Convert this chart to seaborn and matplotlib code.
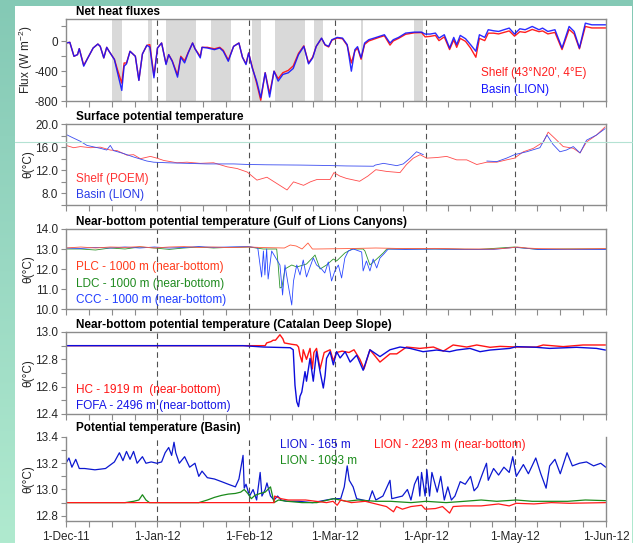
import numpy as np
import pandas as pd
import matplotlib
matplotlib.use("Agg")
import matplotlib.pyplot as plt
import matplotlib.dates as mdates
import seaborn as sns
from matplotlib.colors import LinearSegmentedColormap
from matplotlib.patches import Rectangle
from matplotlib.lines import Line2D

###################################################################################################
# Data (days counted from 1-Dec-2011)
###################################################################################################

# panel 1 : net heat fluxes (W m-2)
FLUX_DAYS = [0, 1.3, 2.7, 3.9, 4.5, 6.0, 7.4, 9.2, 10.8, 11.6,
             12.8, 13.8, 14.6, 16.4, 17.6, 18.9, 19.7, 20.5, 21.7, 23.5,
             24.7, 25.9, 27.4, 28.4, 29.8, 31.0, 32.4, 33.9, 34.8, 36.0,
             37.8, 38.9, 40.2, 41.4, 42.9, 43.7, 45.5, 46.1, 47.9, 50.3,
             52.1, 53.3, 55.0, 56.8, 58.6, 59.8, 61.0, 61.9, 63.1, 64.6,
             66.0, 67.5, 69.0, 70.5, 71.9, 73.5, 75.3, 77.0, 78.8, 80.6,
             82.2, 83.6, 84.8, 86.6, 87.8, 89.0, 90.1, 91.9, 93.7, 95.3,
             96.7, 97.9, 98.8, 100.0, 101.2, 102.6, 104.4, 106.2, 107.9, 109.8,
             110.9, 112.7, 115.1, 118.1, 120.5, 121.7, 123.4, 125.2, 126.4, 128.2,
             130.0, 131.4, 132.4, 133.6, 135.4, 137.1, 138.9, 140.1, 141.9, 143.1,
             144.9, 146.6, 148.4, 150.2, 152.0, 153.8, 155.6, 158.0, 160.3, 161.5,
             163.3, 165.7, 168.1, 170.5, 172.2, 174.0, 176.0, 178.2, 181.2, 182.9]
FLUX_BASIN = [-22, -13, -200, -178, -98, -333, -222, -89, -36, -67,
              -222, -80, -133, -244, -444, -658, -333, -302, -133, -200,
              -524, -169, -53, -76, -489, -89, -22, -311, -178, -267,
              -480, -213, -289, -156, -22, -98, -222, -80, -89, -111,
              -89, -133, -267, -67, -22, -213, -311, -156, -356, -533,
              -756, -422, -747, -400, -533, -444, -422, -364, -178, -67,
              -302, -222, -67, 44, -44, -67, 22, 53, 44, -44,
              -400, -111, -71, -222, -22, 22, 44, 67, 89, -22,
              22, 53, 111, 124, 124, 98, 98, 111, 44, 89,
              -89, 53, -44, 80, 36, -44, -133, 89, 53, 156,
              142, 133, 156, 178, 98, 169, 156, 200, 156, 178,
              133, 156, -89, 200, 133, -89, 244, 222, 222, 222]
FLUX_SHELF = [-22, -13, -200, -178, -98, -320, -222, -89, -36, -67,
              -222, -80, -133, -240, -400, -560, -290, -290, -133, -200,
              -520, -169, -53, -44, -460, -89, -22, -300, -178, -260,
              -450, -200, -260, -150, -22, -98, -200, -80, -80, -100,
              -80, -120, -250, -67, -22, -213, -300, -156, -340, -560,
              -791, -420, -700, -400, -500, -420, -390, -330, -160, -60,
              -290, -210, -67, 40, -50, -75, 15, 45, 35, -55,
              -290, -130, -90, -240, -40, 5, 30, 55, 75, -50,
              5, 40, 95, 115, 118, 60, 67, 80, 10, 60,
              -110, 20, -80, 40, 0, -90, -213, 40, 10, 110,
              110, 100, 120, 140, 70, 130, 120, 160, 130, 140,
              100, 120, -110, 160, 100, -100, 200, 180, 180, 180]
SHADE_START = [15.5, 27.8, 33.9, 49.1, 63.0, 70.9, 84.0, 100.0, 118.1]
SHADE_END = [19.0, 29.1, 44.0, 56.0, 66.1, 81.0, 87.0, 100.5, 121.1]

# panel 2 : surface potential temperature (degC)
SST_SHELF_DAYS = [0, 2.6, 4.9, 8.3, 11.6, 15, 17.3, 20.7, 22.9, 25.2,
                  28.6, 30.8, 33.1, 37.6, 41, 45.5, 50, 54.6, 58, 61.4,
                  64.7, 68.1, 71.5, 74.9, 77.1, 80.5, 82.8, 85, 89.5, 90.8,
                  92.8, 95, 99.5, 102.3, 105, 108.7, 113.2, 115.4, 117.7, 120,
                  122.2, 125.6, 129, 132.4, 135.8, 139.2, 142.6, 146, 149.3, 152,
                  155, 158.4, 161.8, 163.4, 165.7, 168.5, 171.9, 174.2, 176.4, 179.8,
                  182.7]
SST_SHELF = [16.3, 15.9, 16.1, 15.9, 16.0, 15.5, 15.4, 14.6, 14.7, 14.0,
             14.4, 14.1, 13.7, 13.3, 13.4, 13.2, 13.3, 12.6, 12.3, 11.7,
             10.3, 10.8, 9.7, 8.6, 10.0, 9.4, 10.0, 10.4, 10.4, 11.6,
             11.0, 10.6, 10.1, 11.0, 12.1, 11.8, 11.6, 13.0, 14.1, 14.7,
             14.1, 14.2, 14.4, 13.8, 13.8, 13.0, 13.4, 13.4, 13.8, 14.1,
             15.2, 15.8, 16.9, 18.6, 17.5, 16.1, 15.8, 15.0, 16.9, 18.1,
             19.5]
SST_BASIN_A_DAYS = [0, 2, 4.9, 7.1, 11.6, 13.8, 15, 16.1, 19.5, 22.9,
                    27.4, 29.7, 34.2, 41, 47.7, 56.8, 61.9, 68.1, 79.4, 86.2,
                    95, 104.2, 104.8, 107.6, 112.1, 114.3, 116.6, 118.8, 121.1]
SST_BASIN_A = [18.2, 17.7, 17.0, 16.3, 15.8, 15.5, 16.3, 15.4, 14.9, 14.3,
               13.6, 13.4, 13.3, 13.2, 13.1, 13.1, 13.0, 12.95, 12.9, 12.85,
               12.75, 12.7, 12.9, 13.2, 12.8, 13.1, 14.1, 15.2, 14.7]
SST_BASIN_B_DAYS = [142.6, 146, 149.3, 152, 156.1, 160.6, 163, 165, 167.4, 169.6,
                    171.9, 174.2, 176.4, 179.8, 182.7]
SST_BASIN_B = [13.6, 13.5, 14.1, 14.7, 15.2, 15.9, 18.1, 16.5, 15.2, 15.5,
               16.1, 15.0, 17.2, 18.1, 19.2]

# panel 3 : Gulf of Lions canyons
PLC_DAYS = [0, 5, 10, 15, 20, 25, 30, 35, 40, 45,
            50, 55, 62, 67, 74, 76, 78, 80, 82, 83.5,
            85, 95, 105, 115, 125, 135, 145, 150, 153, 156,
            160, 170, 183]
PLC = [13.05, 13.1, 13.05, 13.1, 13.08, 13.12, 13.05, 13.1, 13.12, 13.08,
       13.1, 13.07, 13.1, 13.07, 13.05, 13.2, 13.15, 13.0, 13.3, 13.0,
       13.0, 13.02, 13.05, 13.02, 13.03, 13.0, 13.0, 13.05, 13.1, 13.05,
       13.02, 13.0, 13.02]
LDC_DAYS = [0, 5, 10, 15, 20, 25, 30, 35, 40, 45,
            50, 55, 62, 66.9, 71.4, 71.9, 72.5, 73.2, 74.2, 76.5,
            78.2, 81.5, 83.8, 84.4, 86.1, 88.3, 90.6, 91.7, 94.5, 95.7,
            97, 100.7, 101.3, 103, 105.3, 107.5, 108.7, 115, 125, 140,
            152, 155, 160, 170, 183]
LDC = [13.0, 13.0, 12.95, 13.05, 13.0, 13.1, 13.05, 12.98, 13.05, 13.1,
       13.05, 13.08, 13.1, 13.0, 13.0, 12.2, 11.05, 11.1, 12.0, 12.2,
       12.1, 12.25, 12.6, 12.7, 12.0, 12.2, 12.5, 12.4, 12.8, 12.9,
       13.0, 13.0, 12.9, 12.2, 12.5, 12.8, 13.0, 13.0, 13.0, 12.98,
       13.1, 13.05, 12.98, 13.0, 13.0]
CCC_DAYS = [0, 5, 10, 15, 20, 25, 30, 35, 40, 45,
            50, 55, 62, 65, 66.3, 66.9, 67.4, 68, 68.5, 69.7,
            72.5, 73.4, 74.2, 75.3, 76.5, 77.1, 78.2, 79.3, 80.4, 81.5,
            82.7, 83.8, 84.9, 86.6, 87.7, 88.9, 90, 91.1, 92.3, 93.4,
            94.5, 95.7, 97.4, 100.2, 100.7, 101.8, 103, 104.1, 105.3, 106.4,
            107.7, 109.2, 115, 125, 135, 145, 152, 155, 160, 170,
            183]
CCC = [13.05, 13.03, 13.08, 13.05, 13.1, 13.05, 13.1, 13.05, 13.08, 13.12,
       13.08, 13.1, 13.12, 13.05, 11.6, 12.9, 11.7, 13.0, 11.5, 12.9,
       12.2, 10.7, 12.2, 11.2, 10.2, 11.4, 12.2, 11.7, 12.45, 11.6,
       12.1, 12.55, 12.2, 12.0, 11.8, 12.35, 11.4, 11.9, 12.2, 11.55,
       12.55, 12.9, 13.0, 12.85, 11.9, 12.4, 11.9, 12.5, 12.05, 12.55,
       12.75, 13.0, 12.98, 13.0, 12.98, 12.98, 13.08, 13.05, 12.98, 12.98,
       12.98]

# panel 4 : Catalan deep slope
HC_DAYS = [0, 30, 60, 67.5, 68, 69.5, 70.2, 71, 72.5, 73.5,
           74, 76.5, 78.2, 78.8, 79.3, 80, 80.4, 81.5, 82.7, 83.5,
           84, 84.9, 86.1, 87.5, 89.5, 90.6, 91.7, 93.6, 95.9, 97.6,
           99.6, 101, 103, 106.4, 109.8, 112.1, 115.4, 119.9, 124.5, 127.9,
           131.2, 135.8, 139.2, 143.7, 147.1, 152.7, 159.4, 161.7, 168.5, 175.2,
           182.8]
HC = [12.9, 12.9, 12.9, 12.9, 12.92, 12.93, 12.94, 12.94, 12.98, 12.95,
      12.92, 12.91, 12.905, 12.89, 12.83, 12.78, 12.87, 12.8, 12.88, 12.73,
      12.85, 12.88, 12.73, 12.85, 12.87, 12.79, 12.85, 12.86, 12.85, 12.87,
      12.8, 12.73, 12.87, 12.78, 12.84, 12.84, 12.89, 12.88, 12.89, 12.86,
      12.905, 12.89, 12.905, 12.888, 12.895, 12.89, 12.89, 12.905, 12.893, 12.905,
      12.905]
FOFA_DAYS = [0, 60, 67, 76, 77, 77.6, 78.2, 78.8, 79.3, 79.9,
             81, 81.5, 82.7, 83.8, 84.9, 86.1, 87.2, 87.8, 88.3, 89.5,
             90.6, 91.7, 92.9, 94.6, 96.3, 98.5, 100.7, 103, 106.4, 109.8,
             113.2, 116.6, 121, 125.6, 130, 132.4, 136.9, 140.3, 143.7, 150.4,
             152.7, 159.4, 163.9, 173, 179.8, 182.8]
FOFA = [12.9, 12.9, 12.89, 12.885, 12.87, 12.61, 12.49, 12.454, 12.53, 12.56,
        12.71, 12.64, 12.807, 12.64, 12.856, 12.71, 12.59, 12.68, 12.807, 12.856,
        12.76, 12.856, 12.81, 12.856, 12.78, 12.83, 12.72, 12.87, 12.82, 12.87,
        12.89, 12.88, 12.856, 12.868, 12.856, 12.868, 12.88, 12.856, 12.868, 12.88,
        12.893, 12.888, 12.88, 12.888, 12.88, 12.868]

# panel 5 : basin (LION mooring)
L165_DAYS = [0, 1, 2, 3.3, 4.5, 6.3, 9.8, 13.4, 14.6, 16.4,
             18.1, 19.3, 20.5, 21.7, 22.9, 24.1, 25.9, 27.1, 28.9, 30.8,
             32.4, 33.6, 34.8, 35.8, 36.6, 37.2, 38.4, 40.2, 41.9, 43.7,
             45, 46.1, 47.9, 50.3, 52.7, 55, 57.4, 58.6, 60, 60.4,
             61, 62.2, 63.4, 64.6, 65.8, 66.4, 67.5, 68.1, 69.3, 70.5,
             71.7, 72.9, 74.7, 78.8, 83.6, 88.3, 90.7, 93.1, 94.3, 95.3,
             96, 97.3, 98.5, 102.6, 103.8, 105, 107.4, 109.8, 110.4, 114,
             115.7, 116.9, 118.1, 119.3, 119.9, 120.5, 121.7, 122.3, 123.2, 124,
             125.8, 127, 128.2, 129.4, 130.6, 131.8, 133.6, 135.3, 137.1, 138.3,
             139.5, 141.3, 142.5, 143.1, 144.9, 146.6, 148.4, 150.2, 151.4, 152.6,
             155, 156.7, 159.2, 160.9, 162.7, 163.9, 165.7, 167.5, 169.8, 171.6,
             174, 176.4, 178.8, 181.2, 182.9]
L165 = [13.2, 13.24, 13.17, 13.23, 13.16, 13.16, 13.15, 13.16, 13.18, 13.21,
        13.28, 13.22, 13.29, 13.23, 13.29, 13.2, 13.25, 13.2, 13.21, 13.2,
        13.21, 13.28, 13.32, 13.26, 13.36, 13.28, 13.2, 13.25, 13.17, 13.2,
        13.1, 13.14, 13.09, 13.08, 13.06, 13.04, 13.02, 13.08, 13.26, 13.01,
        13.04, 12.95, 13.0, 12.92, 13.13, 12.95, 13.0, 13.05, 12.95, 12.92,
        12.95, 12.92, 12.91, 12.91, 12.9, 12.92, 12.93, 12.93, 13.02, 13.18,
        13.07, 13.02, 12.93, 12.91, 12.99, 12.92, 12.95, 13.07, 12.93, 12.95,
        13.0, 12.92, 13.04, 13.1, 12.95, 13.13, 12.95, 13.15, 12.95, 13.13,
        12.98, 13.1, 12.92, 13.02, 12.92, 12.95, 13.06, 13.04, 13.1, 12.99,
        13.02, 13.13, 13.2, 13.07, 13.16, 13.11, 13.17, 13.13, 13.25, 13.1,
        13.19, 13.12, 13.24, 13.12, 13.01, 13.18, 13.23, 13.12, 13.28, 13.18,
        13.2, 13.21, 13.18, 13.2, 13.17]
L1093_DAYS = [0, 10, 20, 22.9, 24.7, 25.9, 27.1, 28.3, 35, 40,
              45, 47.9, 50.3, 52.7, 55, 57.4, 59.2, 60.4, 61.6, 62.8,
              64, 65.8, 67.5, 69.3, 70.5, 72, 75, 80, 85, 90.7,
              95, 99, 105, 110, 116.9, 122, 128.8, 135, 140.7, 146,
              152.6, 158, 164.5, 170, 176, 182.9]
L1093 = [12.9, 12.9, 12.9, 12.91, 12.92, 12.96, 12.92, 12.9, 12.9, 12.9,
         12.9, 12.92, 12.94, 12.955, 12.965, 12.97, 12.98, 13.0, 12.97, 12.93,
         12.955, 12.97, 12.98, 13.02, 12.9, 12.92, 12.91, 12.9, 12.9, 12.93,
         12.91, 12.92, 12.91, 12.91, 12.9, 12.91, 12.9, 12.91, 12.92, 12.91,
         12.92, 12.91, 12.91, 12.91, 12.92, 12.915]
L2293_DAYS = [0, 70.5, 70.7, 72.9, 75.3, 81.2, 88.3, 90.5, 91.9, 93.1,
              96.7, 101.4, 105, 108.6, 111, 112, 114, 116.9, 120.5, 121.7,
              125.2, 127.6, 130, 131.2, 134.8, 140.7, 146.6, 150.2, 152.6, 158.6,
              164.5, 170.5, 182.9]
L2293 = [12.9, 12.9, 12.95, 12.93, 12.92, 12.92, 12.9, 12.91, 12.88, 12.92,
         12.9, 12.91, 12.89, 12.87, 12.83, 12.87, 12.85, 12.87, 12.88, 12.85,
         12.855, 12.87, 12.82, 12.87, 12.875, 12.875, 12.89, 12.875, 12.895, 12.89,
         12.9, 12.895, 12.9]

MONTHS = ["2011-12-01", "2012-01-01", "2012-02-01", "2012-03-01",
          "2012-04-01", "2012-05-01", "2012-06-01"]
MONTH_LABELS = ["1-Dec-11", "1-Jan-12", "1-Feb-12", "1-Mar-12",
                "1-Apr-12", "1-May-12", "1-Jun-12"]

START = pd.Timestamp("2011-12-01")
FONT = 8.5

###################################################################################################
# helpers
###################################################################################################
def to_dates(days):
    return START + pd.to_timedelta(np.asarray(days, dtype=float), unit="D")


def draw(ax, days, values, color, lw, alpha=1.0):
    df = pd.DataFrame({"date": to_dates(days), "value": values})
    sns.lineplot(data=df, x="date", y="value", ax=ax, color=color,
                 linewidth=lw, alpha=alpha, estimator=None, sort=False)


def style(ax, ylim, major, labels, minor, show_x=False, top=True):
    month_dates = pd.to_datetime(MONTHS)
    quarter = []
    for a, b in zip(month_dates[:-1], month_dates[1:]):
        for k in (1, 2, 3):
            quarter.append(a + (b - a) * k / 4)
    ax.set_xlim(mdates.date2num(month_dates[0]), mdates.date2num(month_dates[-1]))
    ax.set_ylim(*ylim)
    ax.set_xticks(mdates.date2num(month_dates))
    ax.set_xticks(mdates.date2num(pd.to_datetime(quarter)), minor=True)
    ax.set_xticklabels(MONTH_LABELS if show_x else [])
    ax.set_yticks(major)
    ax.set_yticklabels(labels)
    ax.set_yticks(minor, minor=True)
    ax.set_xlabel("")
    ax.set_ylabel("")
    for d in month_dates[1:-1]:
        ax.axvline(mdates.date2num(d), color="#505050", lw=0.8,
                   ls=(0, (5, 3.5)), zorder=1.5)
    for name, sp in ax.spines.items():
        sp.set_color("#8c8c8c")
        sp.set_linewidth(1.0)
    ax.spines["top"].set_visible(top)
    ax.tick_params(axis="both", which="both", direction="out", color="#8c8c8c",
                   width=0.8, labelsize=FONT, pad=2)
    ax.tick_params(axis="y", which="both", length=3.5)
    ax.tick_params(axis="x", which="both", length=4, pad=3.5)
    ax.set_facecolor("none")


def title(ax, s, y=1.015):
    ax.text(0.018, y, s, transform=ax.transAxes, ha="left", va="bottom",
            fontsize=FONT, fontweight="bold", color="black")


def label(ax, x, y, s, color):
    ax.text(x, y, s, transform=ax.transAxes, ha="left", va="center",
            fontsize=FONT, color=color)

###################################################################################################
# main
###################################################################################################
def main():
    sns.set_style("ticks")
    plt.rcParams["font.family"] = ["Liberation Sans", "DejaVu Sans"]
    plt.rcParams["mathtext.fontset"] = "custom"
    plt.rcParams["mathtext.rm"] = "Liberation Sans"
    plt.rcParams["mathtext.it"] = "Liberation Sans:italic"

    W, H = 633, 543
    fig = plt.figure(figsize=(W / 100, H / 100), dpi=100, facecolor="#86cab7")

    # teal frame with gradient on the left, white sheet on top
    bg = fig.add_axes([0, 0, 1, 1], zorder=-20)
    cmap = LinearSegmentedColormap.from_list("frame", ["#84c9b5", "#9ad9c3", "#b0eacf"])
    bg.imshow(np.linspace(0, 1, 256).reshape(-1, 1), aspect="auto", cmap=cmap,
              extent=[0, 1, 0, 1], origin="upper")
    bg.axis("off")
    fig.add_artist(Rectangle((15 / W, 0), (632 - 15) / W, 1 - 6 / H,
                             transform=fig.transFigure, facecolor="white",
                             edgecolor="none", zorder=-10))

    x0, w = 66 / W, 540 / W
    boxes = [(19, 101), (124, 205), (229, 309), (332, 414), (437, 521)]
    axes = [fig.add_axes([x0, 1 - b / H, w, (b - t) / H]) for t, b in boxes]
    ax1, ax2, ax3, ax4, ax5 = axes

    # 1) net heat fluxes
    for s, e in zip(SHADE_START, SHADE_END):
        ax1.axvspan(mdates.date2num(START + pd.Timedelta(days=s)),
                    mdates.date2num(START + pd.Timedelta(days=e)),
                    color="#d9d9d9", lw=0, zorder=0.5)
    draw(ax1, FLUX_DAYS, FLUX_SHELF, "#ff1f1f", 1.0)
    draw(ax1, FLUX_DAYS, FLUX_BASIN, "#1414ff", 1.0, alpha=0.9)
    style(ax1, (-800, 300), [-800, -400, 0], ["-800", "-400", "0"], [-600, -200, 200])
    title(ax1, "Net heat fluxes")
    label(ax1, 0.769, 0.34, "Shelf (43°N20', 4°E)", "#ff1f1f")
    label(ax1, 0.769, 0.13, "Basin (LION)", "#1414ff")
    ax1.set_ylabel("Flux (W m$^{-2}$)", fontsize=FONT)
    ax1.yaxis.set_label_coords(-0.057, 0.5)

    # 2) surface potential temperature
    draw(ax2, SST_SHELF_DAYS, SST_SHELF, "#ff4a4a", 0.6)
    draw(ax2, SST_BASIN_A_DAYS, SST_BASIN_A, "#3a4cf0", 0.6)
    draw(ax2, SST_BASIN_B_DAYS, SST_BASIN_B, "#3a4cf0", 0.6)
    style(ax2, (6, 20), [8, 12, 16, 20], ["8.0", "12.0", "16.0", "20.0"], [6, 10, 14, 18])
    title(ax2, "Surface potential temperature")
    label(ax2, 0.018, 0.32, "Shelf (POEM)", "#ff3030")
    label(ax2, 0.018, 0.12, "Basin (LION)", "#2a3ce8")

    # 3) gulf of lions canyons
    draw(ax3, LDC_DAYS, LDC, "#2e952e", 0.6)
    draw(ax3, CCC_DAYS, CCC, "#2a48ff", 0.6)
    draw(ax3, PLC_DAYS, PLC, "#ff5a3c", 0.6)
    style(ax3, (10, 14), [10, 11, 12, 13, 14],
          ["10.0", "11.0", "12.0", "13.0", "14.0"], [])
    title(ax3, "Near-bottom potential temperature (Gulf of Lions Canyons)")
    label(ax3, 0.018, 0.52, "PLC - 1000 m (near-bottom)", "#ff3a1a")
    label(ax3, 0.018, 0.31, "LDC - 1000 m (near-bottom)", "#1f8a1f")
    label(ax3, 0.018, 0.11, "CCC - 1000 m (near-bottom)", "#1f3cff")

    # 4) catalan deep slope
    draw(ax4, HC_DAYS, HC, "#ff1414", 1.0)
    draw(ax4, FOFA_DAYS, FOFA, "#0c0cdc", 1.0)
    style(ax4, (12.4, 13.0), [12.4, 12.6, 12.8, 13.0],
          ["12.4", "12.6", "12.8", "13.0"], [12.5, 12.7, 12.9])
    title(ax4, "Near-bottom potential temperature (Catalan Deep Slope)")
    label(ax4, 0.018, 0.29, "HC - 1919 m  (near-bottom)", "#ff1414")
    label(ax4, 0.018, 0.10, "FOFA - 2496 m (near-bottom)", "#1414e6")

    # 5) basin
    draw(ax5, L165_DAYS, L165, "#0c18d0", 0.9)
    draw(ax5, L1093_DAYS, L1093, "#1a8a1a", 0.9)
    draw(ax5, L2293_DAYS, L2293, "#ff1a1a", 0.9)
    style(ax5, (12.76, 13.4), [12.8, 13.0, 13.2, 13.4],
          ["12.8", "13.0", "13.2", "13.4"], [12.9, 13.1, 13.3], show_x=True, top=False)
    title(ax5, "Potential temperature (Basin)", y=1.03)
    label(ax5, 0.396, 0.91, "LION - 165 m", "#1414d6")
    label(ax5, 0.396, 0.71, "LION - 1093 m", "#1a8a1a")
    label(ax5, 0.570, 0.91, "LION - 2293 m (near-bottom)", "#ff1a1a")

    for ax in (ax2, ax3, ax4, ax5):
        ax.set_ylabel("θ(°C)", fontsize=FONT)
        ax.yaxis.set_label_coords(-0.058, 0.5)

    # faint scan line across the sheet
    fig.add_artist(Line2D([15 / W, 1], [1 - 142 / H, 1 - 142 / H],
                          transform=fig.transFigure, color="#b4e2d3", lw=0.8, zorder=30))

    fig.savefig("out.png", dpi=100, facecolor=fig.get_facecolor())


###################################################################################################
# application starter
###################################################################################################
if __name__ == "__main__":
    main()
